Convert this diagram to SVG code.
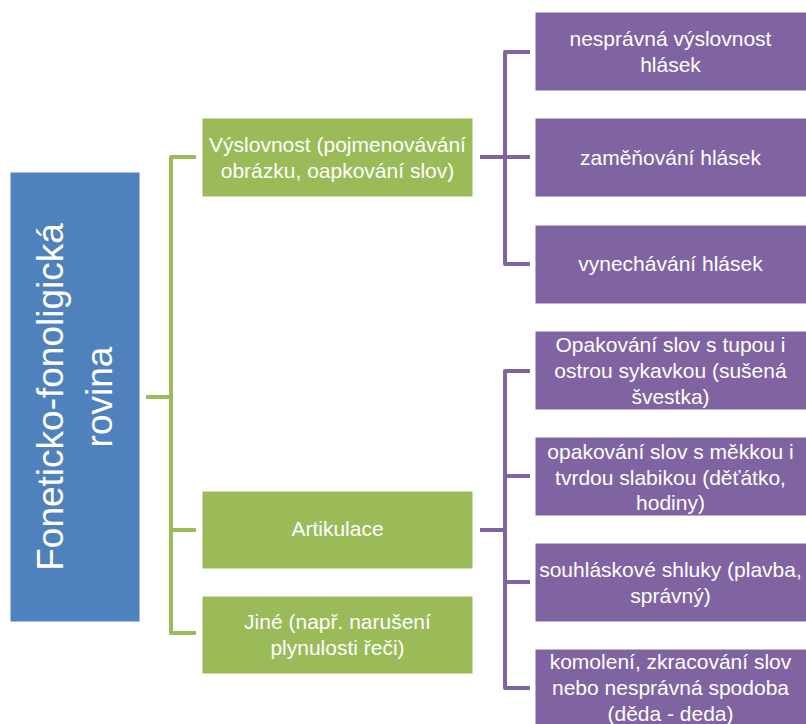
<svg xmlns="http://www.w3.org/2000/svg" width="806" height="724" viewBox="0 0 806 724">
<style>
.blue{fill:#4F81BD;stroke:#ffffff;stroke-width:1}
.green{fill:#9BBB59;stroke:#ffffff;stroke-width:1}
.purple{fill:#8064A2;stroke:#ffffff;stroke-width:1}
text{font-family:"Liberation Sans",Arial,sans-serif;fill:#ffffff;text-anchor:middle}
.t{font-size:21px}
.big{font-size:37px}
.cg{fill:none;stroke:#9BBB59;stroke-width:4;stroke-linejoin:round;stroke-linecap:butt}
.cp{fill:none;stroke:#8064A2;stroke-width:4;stroke-linejoin:round;stroke-linecap:butt}
</style>
<rect width="806" height="724" fill="#ffffff"/>
<g id="connectors">
<path class="cg" d="M146,397 H171 M196,157 H171 V633 H196 M171,530 H196"/>
<path class="cp" d="M480,157 H505 M530,52 H505 V264 H530 M505,157 H530"/>
<path class="cp" d="M480,530 H505 M530,371 H505 V688 H530 M505,476 H530 M505,582 H530"/>
</g>
<g id="root">
<rect class="blue" x="10" y="172" width="130" height="450"/>
<text class="big" transform="translate(75,397) rotate(-90)"><tspan x="0" y="-12">Foneticko-fonoligická</tspan><tspan x="0" y="37">rovina</tspan></text>
</g>
<g id="vyslovnost">
<rect class="green" x="202" y="118" width="271" height="79"/>
<text class="t"><tspan x="337.5" y="152">Výslovnost (pojmenovávání</tspan><tspan x="337.5" y="178">obrázku, oapkování slov)</tspan></text>
</g>
<g id="artikulace">
<rect class="green" x="202" y="491" width="271" height="78"/>
<text class="t" x="337.5" y="536">Artikulace</text>
</g>
<g id="jine">
<rect class="green" x="202" y="596" width="271" height="78"/>
<text class="t"><tspan x="337.5" y="629">Jiné (např. narušení</tspan><tspan x="337.5" y="655">plynulosti řeči)</tspan></text>
</g>
<g id="p1">
<rect class="purple" x="535" y="12" width="272" height="79"/>
<text class="t"><tspan x="670.5" y="46">nesprávná výslovnost</tspan><tspan x="670.5" y="72">hlásek</tspan></text>
</g>
<g id="p2">
<rect class="purple" x="535" y="118" width="272" height="79"/>
<text class="t" x="670.5" y="165">zaměňování hlásek</text>
</g>
<g id="p3">
<rect class="purple" x="535" y="225" width="272" height="79"/>
<text class="t" x="670.5" y="271">vynechávání hlásek</text>
</g>
<g id="p4">
<rect class="purple" x="535" y="331" width="272" height="79"/>
<text class="t"><tspan x="670.5" y="352">Opakování slov s tupou i</tspan><tspan x="670.5" y="378">ostrou sykavkou (sušená</tspan><tspan x="670.5" y="404">švestka)</tspan></text>
</g>
<g id="p5">
<rect class="purple" x="535" y="437" width="272" height="79"/>
<text class="t"><tspan x="670.5" y="459">opakování slov s měkkou i</tspan><tspan x="670.5" y="485">tvrdou slabikou (děťátko,</tspan><tspan x="670.5" y="510">hodiny)</tspan></text>
</g>
<g id="p6">
<rect class="purple" x="535" y="543" width="272" height="79"/>
<text class="t"><tspan x="670.5" y="577">souhláskové shluky (plavba,</tspan><tspan x="670.5" y="603">správný)</tspan></text>
</g>
<g id="p7">
<rect class="purple" x="535" y="649" width="272" height="79"/>
<text class="t"><tspan x="670.5" y="669">komolení, zkracování slov</tspan><tspan x="670.5" y="695">nebo nesprávná spodoba</tspan><tspan x="670.5" y="721">(děda - deda)</tspan></text>
</g>
</svg>
